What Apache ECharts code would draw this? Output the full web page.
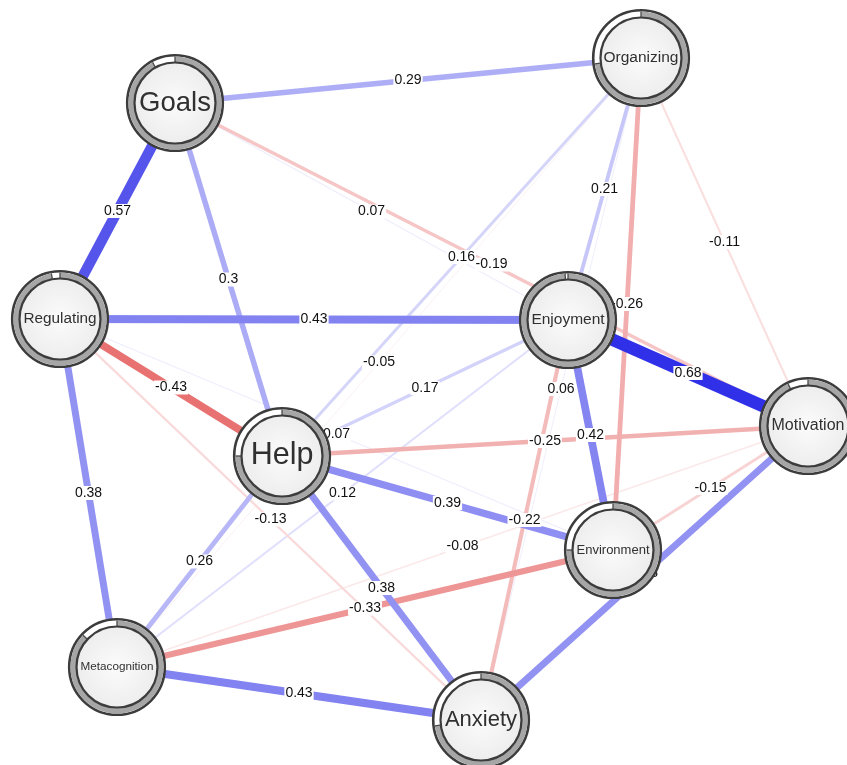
<!DOCTYPE html>
<html>
<head>
<meta charset="utf-8">
<title>Network</title>
<script src="https://cdn.jsdelivr.net/npm/echarts@6/dist/echarts.min.js"></script>
<style>
  html, body { margin: 0; padding: 0; background: #fff; }
  #main { width: 847px; height: 765px; }
</style>
</head>
<body>
<div id="main"></div>
<script>
// nodes
const nodeNames = ['Goals', 'Organizing', 'Regulating', 'Enjoyment', 'Motivation', 'Help', 'Environment', 'Metacognition', 'Anxiety'];
// filled part of the ring round each node
const ringShare = [0.92, 0.73, 0.97, 0.99, 0.93, 0.75, 0.75, 0.87, 0.73];

// edges (partial correlations)
const edgeFrom = ['Goals', 'Goals', 'Goals', 'Goals', 'Goals',
  'Regulating', 'Regulating', 'Regulating', 'Regulating', 'Regulating',
  'Organizing', 'Organizing', 'Organizing', 'Organizing', 'Organizing', 'Organizing',
  'Enjoyment', 'Enjoyment', 'Enjoyment', 'Enjoyment', 'Enjoyment',
  'Help', 'Help', 'Help', 'Help',
  'Metacognition', 'Metacognition', 'Metacognition',
  'Motivation', 'Motivation'];
const edgeTo = ['Organizing', 'Regulating', 'Help', 'Enjoyment', 'Motivation',
  'Enjoyment', 'Help', 'Metacognition', 'Anxiety', 'Environment',
  'Enjoyment', 'Help', 'Metacognition', 'Anxiety', 'Environment', 'Motivation',
  'Motivation', 'Help', 'Metacognition', 'Environment', 'Anxiety',
  'Motivation', 'Environment', 'Metacognition', 'Anxiety',
  'Motivation', 'Environment', 'Anxiety',
  'Environment', 'Anxiety'];
const edgeWeight = [0.29, 0.57, 0.3, 0.07, -0.19,
  0.43, -0.43, 0.38, -0.13, 0.07,
  0.21, 0.16, -0.05, 0.06, -0.26, -0.11,
  0.68, 0.17, 0.12, 0.42, -0.22,
  -0.25, 0.39, 0.26, 0.38,
  -0.08, -0.33, 0.43,
  -0.15, 0.38];

// layout of the nodes (same units as the picture)
const nodeX = [175, 641, 60, 568, 808, 282, 613, 117, 481];
const nodeY = [103, 58, 319, 320, 426, 456, 550, 667, 720];
const nodeFont = { Goals: 27.5, Organizing: 15.5, Regulating: 15.3, Enjoyment: 15.5, Motivation: 16,
  Help: 30.5, Environment: 13, Metacognition: 11.7, Anxiety: 22 };

const maxW = 0.68;
const FONT = '"Liberation Sans", Arial, Helvetica, sans-serif';

function edgeColor (w) {
  const t = Math.pow(Math.min(Math.abs(w) / maxW, 1), 1.1);
  const mix = end => Math.round(255 + (end - 255) * t);
  if (w > 0) return 'rgb(' + mix(48) + ',' + mix(48) + ',' + mix(232) + ')';
  return 'rgb(' + mix(217) + ',' + mix(21) + ',' + mix(21) + ')';
}

const pos = {};
nodeNames.forEach((n, i) => { pos[n] = [nodeX[i], nodeY[i]]; });

// weak edges first so the strong ones sit on top
const links = edgeFrom.map((f, i) => ({
  source: f,
  target: edgeTo[i],
  value: edgeWeight[i],
  lineStyle: {
    width: Math.max(1, 12.5 * Math.abs(edgeWeight[i]) / maxW),
    color: edgeColor(edgeWeight[i]),
    opacity: 1,
    curveness: 0
  }
})).sort((a, b) => Math.abs(a.value) - Math.abs(b.value));

const chart = echarts.init(document.getElementById('main'));

chart.setOption({
  animation: false,
  backgroundColor: '#fff',
  grid: { left: 0, right: 0, top: 0, bottom: 0 },
  xAxis: { type: 'value', min: 0, max: 847, show: false },
  yAxis: { type: 'value', min: 0, max: 765, inverse: true, show: false },
  series: [
    {
      // edges
      type: 'graph',
      coordinateSystem: 'cartesian2d',
      z: 1,
      silent: true,
      symbolSize: 0,
      data: nodeNames.map((n, i) => ({ name: n, value: [nodeX[i], nodeY[i]] })),
      links: links,
      label: { show: false },
      edgeLabel: { show: false },
      emphasis: { disabled: true }
    },
    {
      // edge weights at the middle of each edge
      type: 'custom',
      coordinateSystem: 'cartesian2d',
      z: 2,
      silent: true,
      data: links.map(l => [
        (pos[l.source][0] + pos[l.target][0]) / 2,
        (pos[l.source][1] + pos[l.target][1]) / 2,
        l.value
      ]),
      renderItem: (params, api) => {
        const p = api.coord([api.value(0), api.value(1)]);
        return {
          type: 'text',
          x: p[0],
          y: p[1],
          style: {
            text: String(api.value(2)),
            align: 'center',
            verticalAlign: 'middle',
            fontSize: 14,
            fontFamily: FONT,
            fill: '#111',
            backgroundColor: '#fff',
            padding: [0, 1]
          }
        };
      }
    },
    {
      // nodes with their rings
      type: 'custom',
      coordinateSystem: 'cartesian2d',
      z: 3,
      silent: true,
      data: nodeNames.map((n, i) => [nodeX[i], nodeY[i], ringShare[i], i]),
      renderItem: (params, api) => {
        const c = api.coord([api.value(0), api.value(1)]);
        const cx = c[0], cy = c[1];
        const name = nodeNames[api.value(3)];
        const start = -Math.PI / 2;
        const end = start + 2 * Math.PI * api.value(2);
        const tick = a => ({
          type: 'line',
          shape: { x1: cx + 41 * Math.cos(a), y1: cy + 41 * Math.sin(a), x2: cx + 46.5 * Math.cos(a), y2: cy + 46.5 * Math.sin(a) },
          style: { stroke: '#4a4a4a', lineWidth: 1.3 }
        });
        return {
          type: 'group',
          children: [
            { type: 'circle', shape: { cx, cy, r: 47.8 }, style: { fill: '#fff', stroke: '#3c3c3c', lineWidth: 2.6 } },
            { type: 'sector', shape: { cx, cy, r0: 41, r: 46.6, startAngle: start, endAngle: end, clockwise: true }, style: { fill: '#a6a6a6' } },
            tick(start),
            tick(end),
            {
              type: 'circle',
              shape: { cx, cy, r: 40.5 },
              style: {
                fill: new echarts.graphic.RadialGradient(0.5, 0.5, 0.5, [
                  { offset: 0, color: '#fbfbfb' },
                  { offset: 1, color: '#ededed' }
                ]),
                stroke: '#3c3c3c',
                lineWidth: 2.2
              }
            },
            {
              type: 'text',
              x: cx,
              y: cy,
              style: {
                text: name,
                align: 'center',
                verticalAlign: 'middle',
                fontSize: nodeFont[name],
                fontFamily: FONT,
                fill: '#303030'
              }
            }
          ]
        };
      }
    }
  ]
});
</script>
</body>
</html>
